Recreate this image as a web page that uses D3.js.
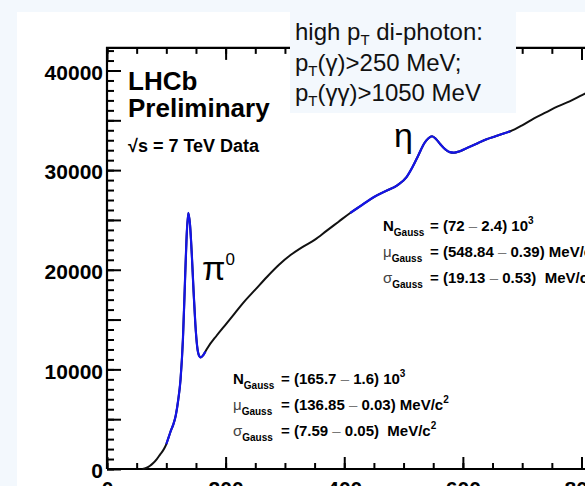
<!DOCTYPE html>
<html>
<head>
<meta charset="utf-8">
<script src="https://cdn.jsdelivr.net/npm/d3@7"></script>
<style>
body { margin: 0; background: #f3f8fd; }
svg { display: block; font-family: "Liberation Sans", Arial, sans-serif; }
text { white-space: pre; }
</style>
</head>
<body>
<svg id="chart" width="585" height="486"></svg>
<script>
// di-photon invariant mass (MeV/c^2, entries per bin)
var massMeV = [60, 66, 72, 78, 84, 90, 96, 100, 104, 108, 112, 116, 120, 124, 128, 131, 134, 137,
	140, 143, 146, 149, 152, 155, 158, 162, 166, 170, 185, 200, 215, 230, 250, 270, 290, 310,
	330, 350, 370, 390, 410, 430, 450, 470, 490, 505, 515, 525, 535, 542, 548, 555, 562, 570,
	578, 585, 595, 610, 625, 640, 655, 670, 680, 700, 720, 740, 760, 780, 800, 810];
var counts = [0, 100, 300, 600, 1000, 1500, 2000, 2500, 3200, 3900, 4500, 5400, 6900, 9000, 13000, 18000, 23000, 25700,
	24500, 21500, 17800, 14500, 12300, 11400, 11200, 11400, 11800, 12200, 13400, 14500, 15600, 16700, 18000, 19300, 20500, 21500,
	22300, 23000, 23900, 24800, 25700, 26500, 27300, 27900, 28500, 29300, 30300, 31500, 32700, 33200, 33400, 33100, 32600, 32100,
	31800, 31750, 31900, 32300, 32700, 33100, 33400, 33700, 33900, 34500, 35200, 35800, 36400, 36900, 37500, 37800];

var pi0Range = [100, 168];
var etaRange = [410, 680];

var xMajorTicks = [0, 200, 400, 600, 800];
var yMajorTicks = [0, 10000, 20000, 30000, 40000];

var pi0Lines = [
	{ sym: "N", sub: "Gauss", pre: "= (165.7 ", pm: "–", post: " 1.6) 10", sup: "3" },
	{ sym: "μ", sub: "Gauss", pre: "= (136.85 ", pm: "–", post: " 0.03) MeV/c", sup: "2" },
	{ sym: "σ", sub: "Gauss", pre: "= (7.59 ", pm: "–", post: " 0.05)  MeV/c", sup: "2" }
];
var etaLines = [
	{ sym: "N", sub: "Gauss", pre: "= (72 ", pm: "–", post: " 2.4) 10", sup: "3" },
	{ sym: "μ", sub: "Gauss", pre: "= (548.84 ", pm: "–", post: " 0.39) MeV/c", sup: "2" },
	{ sym: "σ", sub: "Gauss", pre: "= (19.13 ", pm: "–", post: " 0.53)  MeV/c", sup: "2" }
];

var data = massMeV.map(function(m, i) { return { m: m, c: counts[i] }; });

var svg = d3.select("#chart");

// slide background and pasted plot
svg.append("rect").attr("width", 585).attr("height", 486).attr("fill", "#f3f8fd");
svg.append("rect").attr("x", 17).attr("y", 12).attr("width", 568).attr("height", 474).attr("fill", "#fff");

var x = d3.scaleLinear().domain([0, 800]).range([107, 581.5]);
var y = d3.scaleLinear().domain([0, 40000]).range([469, 70.5]);
var yTop = 42270;

var g = svg.append("g");

// minor / major ticks, bottom
g.append("g").attr("transform", "translate(0," + y(0) + ")")
	.call(d3.axisBottom(x).tickValues(x.ticks(16)).tickSize(-6).tickSizeOuter(0).tickFormat(""));
g.append("g").attr("class", "xmaj").attr("transform", "translate(0," + y(0) + ")")
	.call(d3.axisBottom(x).tickValues(xMajorTicks).tickSize(-12).tickSizeOuter(0).tickPadding(0));
// top mirror
g.append("g").attr("transform", "translate(0," + y(yTop) + ")")
	.call(d3.axisTop(x).tickValues(x.ticks(16)).tickSize(-6).tickSizeOuter(0).tickFormat(""));
g.append("g").attr("transform", "translate(0," + y(yTop) + ")")
	.call(d3.axisTop(x).tickValues(xMajorTicks).tickSize(-12).tickSizeOuter(0).tickFormat(""));

// left axis
var yAll = d3.range(0, yTop, 1000);
g.append("g").attr("transform", "translate(" + x(0) + ",0)")
	.call(d3.axisLeft(y).tickValues(yAll).tickSize(-7).tickSizeOuter(0).tickFormat(""));
g.append("g").attr("transform", "translate(" + x(0) + ",0)")
	.call(d3.axisLeft(y).tickValues(y.ticks(8)).tickSize(-14).tickSizeOuter(0).tickFormat(""));
g.append("g").attr("class", "ymaj").attr("transform", "translate(" + x(0) + ",0)")
	.call(d3.axisLeft(y).tickValues(yMajorTicks).tickSize(0).tickSizeOuter(0).tickPadding(4).tickFormat(d3.format("d")));

g.selectAll(".domain").remove();
g.selectAll(".tick line").attr("stroke", "#000").attr("stroke-width", 2);

g.selectAll(".xmaj .tick text")
	.attr("y", 27).attr("dy", null)
	.attr("font-size", 21).attr("font-weight", "bold").attr("fill", "#000")
	.attr("font-family", "Liberation Sans, Arial, sans-serif");
g.selectAll(".ymaj .tick text")
	.attr("dy", "0.42em")
	.attr("font-size", 21).attr("font-weight", "bold").attr("fill", "#000")
	.attr("font-family", "Liberation Sans, Arial, sans-serif");

// frame
g.append("path")
	.attr("d", "M" + x(0) + "," + y(0) + "V" + y(yTop) + "H590M" + x(0) + "," + y(0) + "H590")
	.attr("fill", "none").attr("stroke", "#000").attr("stroke-width", 2.2);

// data
var line = d3.line()
	.x(function(d) { return x(d.m); })
	.y(function(d) { return y(d.c); })
	.curve(d3.curveMonotoneX);

g.append("path").datum(data)
	.attr("d", line).attr("fill", "none").attr("stroke", "#111").attr("stroke-width", 2);

[pi0Range, etaRange].forEach(function(r) {
	g.append("path")
		.datum(data.filter(function(d) { return d.m >= r[0] && d.m <= r[1]; }))
		.attr("d", line).attr("fill", "none").attr("stroke", "#1414e6").attr("stroke-width", 2.2);
});

// labels
svg.append("text").attr("x", 128).attr("y", 90).attr("font-size", 26).attr("font-weight", "bold").text("LHCb");
svg.append("text").attr("x", 128).attr("y", 117).attr("font-size", 26).attr("font-weight", "bold").text("Preliminary");
svg.append("text").attr("x", 128).attr("y", 152).attr("font-size", 18).attr("font-weight", "bold").text("√s = 7 TeV Data");

var pi = svg.append("text").attr("x", 202).attr("y", 280).attr("font-size", 34);
pi.append("tspan").text("π");
pi.append("tspan").attr("font-size", 17).attr("dy", -15).text("0");

svg.append("text").attr("x", 394).attr("y", 147).attr("font-size", 34).text("η");

function fitText(lines, x0, xEq, y0) {
	lines.forEach(function(l, i) {
		var t = svg.append("text").attr("x", x0).attr("y", y0 + i * 26).attr("font-size", 15);
		t.append("tspan").attr("font-weight", l.sym === "N" ? "bold" : "normal")
			.attr("fill", l.sym === "N" ? "#000" : "#444").text(l.sym);
		t.append("tspan").attr("font-size", 10).attr("font-weight", "bold").attr("dy", 5).text(l.sub);
		var e = svg.append("text").attr("x", xEq).attr("y", y0 + i * 26).attr("font-size", 15).attr("font-weight", "bold");
		e.append("tspan").text(l.pre);
		e.append("tspan").attr("font-weight", "normal").attr("fill", "#777").text(l.pm);
		e.append("tspan").text(l.post);
		e.append("tspan").attr("font-size", 10).attr("dy", -7).text(l.sup);
	});
}
fitText(pi0Lines, 233, 281, 384);
fitText(etaLines, 383, 430, 231);

// text box
svg.append("rect").attr("x", 290).attr("y", 12).attr("width", 226).attr("height", 101).attr("fill", "#f3f8fd");
var boxLines = [
	[["high p"], ["T", "sub"], [" di-photon:"]],
	[["p"], ["T", "sub"], ["(γ)>250 MeV;"]],
	[["p"], ["T", "sub"], ["(γγ)>1050 MeV"]]
];
var boxY = [40, 70.5, 101];
boxLines.forEach(function(parts, i) {
	var t = svg.append("text").attr("x", 295).attr("y", boxY[i]).attr("font-size", 24).attr("fill", "#111");
	var shifted = false;
	parts.forEach(function(p) {
		var s = t.append("tspan").text(p[0]);
		if (p[1] === "sub") { s.attr("font-size", 15).attr("dy", 5); shifted = true; }
		else if (shifted) { s.attr("dy", -5); shifted = false; }
	});
});
</script>
</body>
</html>
